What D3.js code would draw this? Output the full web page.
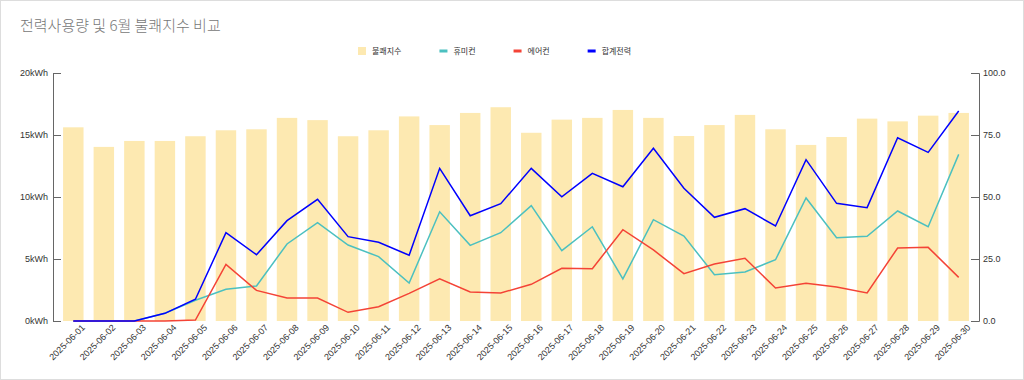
<!DOCTYPE html>
<html>
<head>
<meta charset="utf-8">
<script src="https://cdn.jsdelivr.net/npm/d3@7"></script>
<style>
  html, body { margin: 0; padding: 0; background: #fff; }
  svg { display: block; font-family: "Liberation Sans", Arial, sans-serif; }
  .axis text { fill: #333; font-size: 9px; }
  .axis path, .axis line { stroke: #666; }
</style>
</head>
<body>
<svg id="chart" width="1024" height="380"></svg>
<script>
const dates = ['2025-06-01', '2025-06-02', '2025-06-03', '2025-06-04', '2025-06-05', '2025-06-06',
    '2025-06-07', '2025-06-08', '2025-06-09', '2025-06-10', '2025-06-11', '2025-06-12',
    '2025-06-13', '2025-06-14', '2025-06-15', '2025-06-16', '2025-06-17', '2025-06-18',
    '2025-06-19', '2025-06-20', '2025-06-21', '2025-06-22', '2025-06-23', '2025-06-24',
    '2025-06-25', '2025-06-26', '2025-06-27', '2025-06-28', '2025-06-29', '2025-06-30'];

// 불쾌지수 (right axis)
const discomfort = [78.1, 70.2, 72.6, 72.6, 74.5, 76.9, 77.3, 81.9, 81.0, 74.5,
    76.9, 82.5, 79.0, 83.9, 86.2, 75.9, 81.2, 81.9, 85.1, 81.9,
    74.6, 79.0, 83.1, 77.3, 71.0, 74.2, 81.6, 80.5, 82.8, 83.9];

// kWh (left axis)
const humidifier = [0, 0, 0, 620, 1670, 2560, 2820, 6210, 7930, 6130,
    5190, 3060, 8810, 6100, 7120, 9300, 5670, 7600, 3390, 8170,
    6850, 3730, 3950, 4940, 9920, 6720, 6830, 8870, 7600, 13440];
const aircon = [0, 0, 0, 0, 80, 4570, 2470, 1850, 1850, 700,
    1150, 2230, 3410, 2340, 2260, 2960, 4250, 4220, 7360, 5730,
    3820, 4600, 5060, 2660, 3040, 2740, 2260, 5890, 5940, 3520];
const total = [0, 0, 0, 620, 1750, 7120, 5350, 8090, 9810, 6800,
    6350, 5300, 12310, 8490, 9460, 12310, 10020, 11910, 10830, 13930,
    10700, 8360, 9060, 7660, 13010, 9490, 9140, 14780, 13600, 16940];

const leftTicks = [0, 5000, 10000, 15000, 20000];
const rightTicks = [0, 25, 50, 75, 100];

const svg = d3.select('#chart');
const width = +svg.attr('width');
const height = +svg.attr('height');
const margin = { top: 73, right: 45, bottom: 59, left: 53 };
const chartWidth = width - margin.left - margin.right;
const chartHeight = height - margin.top - margin.bottom;

// card border
svg.append('rect')
    .attr('x', 0.5).attr('y', 0.5)
    .attr('width', width - 1).attr('height', height - 1)
    .attr('fill', 'none')
    .attr('stroke', '#ddd');

svg.append('text')
    .attr('x', 20)
    .attr('y', 31)
    .attr('fill', '#777')
    .style('font-family', '"Noto Sans CJK KR", sans-serif')
    .style('font-size', '15px')
    .style('font-weight', 300)
    .text('전력사용량 및 6월 불쾌지수 비교');

const g = svg.append('g')
    .attr('transform', `translate(${margin.left},${margin.top})`);

const xScale = d3.scaleBand().domain(dates).range([0, chartWidth]).padding(0.33);
const yLeft = d3.scaleLinear().domain([0, 20000]).range([chartHeight, 0]);
const yRight = d3.scaleLinear().domain([0, 100]).range([chartHeight, 0]);

// bars
g.selectAll('.bar')
    .data(dates)
    .enter().append('rect')
    .attr('class', 'bar')
    .attr('x', d => xScale(d))
    .attr('y', (d, i) => yRight(discomfort[i]))
    .attr('width', xScale.bandwidth())
    .attr('height', (d, i) => chartHeight - yRight(discomfort[i]))
    .attr('fill', '#fde9b1');

const series = [
    { name: '휴미컨', values: humidifier, color: '#4bc0c0' },
    { name: '에어컨', values: aircon, color: '#f44336' },
    { name: '합계전력', values: total, color: '#0000ff' }
];

const line = d3.line()
    .x(d => xScale(d.date) + xScale.bandwidth() / 2)
    .y(d => yLeft(d.value));

series.forEach(s => {
    g.append('path')
        .datum(dates.map((d, i) => ({ date: d, value: s.values[i] })))
        .attr('fill', 'none')
        .attr('stroke', s.color)
        .attr('stroke-width', 1.5)
        .attr('d', line);
});

// axes
g.append('g')
    .attr('class', 'axis')
    .call(d3.axisLeft(yLeft).tickValues(leftTicks).tickSize(-8).tickPadding(5)
        .tickFormat(d => (d / 1000) + 'kWh'));

g.append('g')
    .attr('class', 'axis')
    .attr('transform', `translate(${chartWidth},0)`)
    .call(d3.axisRight(yRight).tickValues(rightTicks).tickSize(-8).tickPadding(4)
        .tickFormat(d3.format('.1f')));

const xAxis = g.append('g')
    .attr('class', 'axis')
    .attr('transform', `translate(0,${chartHeight})`)
    .call(d3.axisBottom(xScale).tickSize(0).tickPadding(0));
xAxis.select('.domain').remove();
xAxis.selectAll('text')
    .attr('text-anchor', 'end')
    .attr('dx', '0.4em')
    .attr('dy', '0.9em')
    .attr('transform', 'translate(4,4) rotate(-45)');

// legend
const legend = svg.append('g')
    .attr('transform', 'translate(358,51)')
    .style('font-family', '"Noto Sans CJK KR", sans-serif')
    .style('font-size', '8px');

const legendItems = [
    { name: '불쾌지수', color: '#fde9b1', type: 'bar' },
    ...series.map(s => ({ name: s.name, color: s.color, type: 'line' }))
];

let lx = 0;
legendItems.forEach(item => {
    const it = legend.append('g').attr('transform', `translate(${lx},0)`);
    if (item.type === 'bar') {
        it.append('rect').attr('x', 0).attr('y', -4).attr('width', 8).attr('height', 8).attr('fill', item.color);
    } else {
        it.append('rect').attr('x', 0).attr('y', -1.5).attr('width', 8).attr('height', 3).attr('fill', item.color);
    }
    const t = it.append('text')
        .attr('x', 14)
        .attr('y', 0)
        .attr('dy', '0.35em')
        .attr('fill', '#333')
        .text(item.name);
    lx += 14 + t.node().getComputedTextLength() + 38;
});
</script>
</body>
</html>
